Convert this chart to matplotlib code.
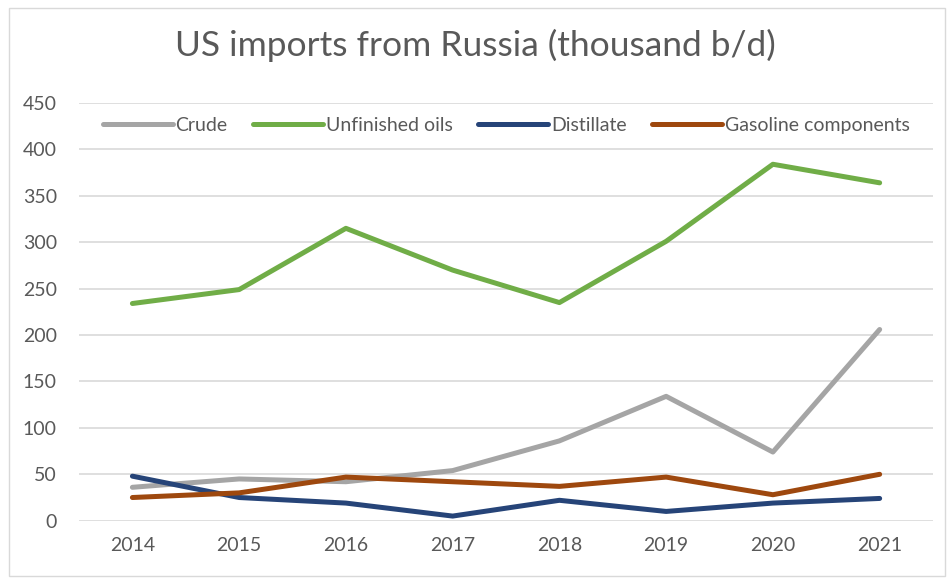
import matplotlib
matplotlib.use("Agg")
import matplotlib.pyplot as plt
from matplotlib.patches import Rectangle

years = ['2014', '2015', '2016', '2017', '2018', '2019', '2020', '2021']
crude = [36, 45, 42, 54, 86, 134, 74, 206]
unfinished = [234, 249, 315, 270, 235, 301, 384, 364]
distillate = [48, 25, 19, 5, 22, 10, 19, 24]
gasoline = [25, 30, 47, 42, 37, 47, 28, 50]

series_names = ['Crude', 'Unfinished oils', 'Distillate', 'Gasoline components']
colors = ['#A5A5A5', '#70AD47', '#264478', '#9E480E']

plt.rcParams['font.family'] = ['Lato', 'DejaVu Sans']
txt = '#595959'

fig = plt.figure(figsize=(9.51, 5.78), dpi=100)
ax = fig.add_axes([0.0831, 0.0991, 0.898, 0.7227])

x = range(len(years))
for vals, name, c in zip([crude, unfinished, distillate, gasoline], series_names, colors):
    ax.plot(x, vals, color=c, lw=3.6, label=name, solid_capstyle='round', solid_joinstyle='round')

ax.set_xlim(-0.5, len(years) - 0.5)
ax.set_ylim(0, 450)
ax.set_yticks(range(0, 451, 50))
ax.set_xticks(list(x))
ax.set_xticklabels(years)
ax.tick_params(axis='both', length=0, labelsize=14, labelcolor=txt)
ax.tick_params(axis='x', pad=12)
ax.tick_params(axis='y', pad=16)
ax.grid(axis='y', color='#D9D9D9', lw=1.2)
ax.set_axisbelow(True)
for s in ax.spines.values():
    s.set_visible(False)

ax.legend(loc='upper center', bbox_to_anchor=(0.5, 1.0), ncol=4, frameon=False,
          fontsize=14, labelcolor=txt, handlelength=3.6, handletextpad=0.15,
          columnspacing=1.3, borderaxespad=0.3)

fig.text(0.5, 0.922, 'US imports from Russia (thousand b/d)', ha='center', va='center',
         fontsize=25.5, color=txt)

fig.patches.append(Rectangle((0.009, 0.004), 0.985, 0.982, transform=fig.transFigure,
                             fill=False, edgecolor='#D9D9D9', lw=1))

fig.savefig('out.png', dpi=100)
